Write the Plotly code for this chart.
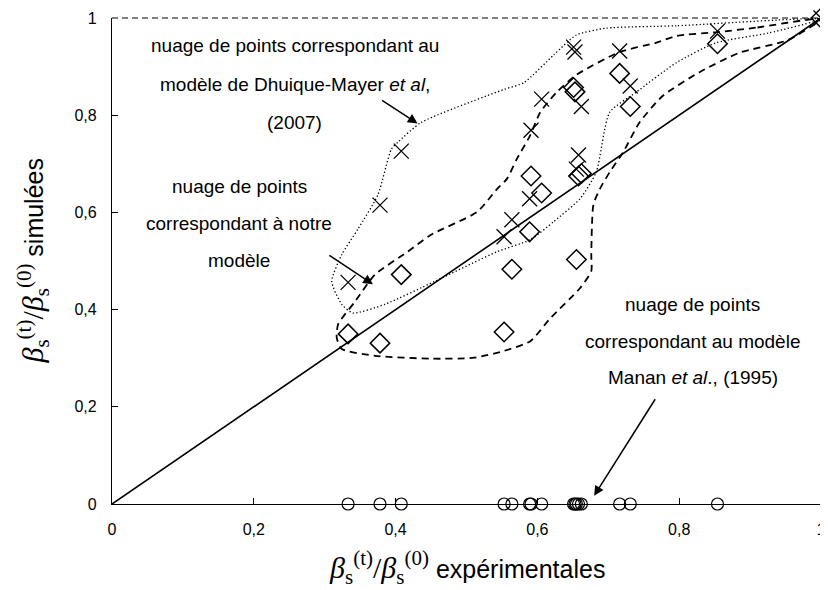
import plotly.graph_objects as go

# Experimental values (x) shared by all three models
x_exp = [0.333, 0.378, 0.408, 0.553, 0.564, 0.589, 0.591, 0.606,
         0.651, 0.653, 0.655, 0.658, 0.662, 0.716, 0.731, 0.854, 1.0]
# Dhuique-Mayer et al. (2007) model (crosses)
y_dhuique = [0.456, 0.615, 0.726, 0.55, 0.585, 0.628, 0.769, 0.833,
             0.94, 0.93, 0.689, 0.718, 0.818, 0.932, 0.86, 0.973, 1.0]
# our model (diamonds)
y_notre = [0.35, 0.331, 0.472, 0.354, 0.483, 0.56, 0.675, 0.64,
           0.857, 0.848, 0.503, 0.675, 0.68, 0.886, 0.818, 0.947, 1.0]
# Manan et al. (1995) model (circles)
x_manan = [0.333, 0.378, 0.408, 0.553, 0.564, 0.589, 0.591, 0.606,
           0.651, 0.653, 0.655, 0.658, 0.662, 0.716, 0.731, 0.854]
y_manan = [0.0] * len(x_manan)

# y = x reference line
diag_x = [0.0, 1.0]
diag_y = [0.0, 1.0]

# hand-drawn envelope around the Dhuique-Mayer points (dotted)
env_dm_x = [1.0, 0.796, 0.697, 0.655, 0.623, 0.581, 0.553, 0.436, 0.403, 0.394,
            0.375, 0.347, 0.324, 0.310, 0.324, 0.340, 0.385, 0.455, 0.543, 0.590,
            0.623, 0.660, 0.683, 0.702, 0.739, 0.796, 0.852, 0.926, 1.0]
env_dm_y = [0.998, 0.984, 0.979, 0.965, 0.924, 0.867, 0.853, 0.785, 0.744, 0.730,
            0.636, 0.566, 0.513, 0.458, 0.411, 0.393, 0.411, 0.458, 0.519, 0.544,
            0.581, 0.628, 0.683, 0.806, 0.847, 0.908, 0.949, 0.969, 0.998]

# hand-drawn envelope around our model's points (dashed)
env_nm_x = [1.0, 0.908, 0.854, 0.796, 0.767, 0.716, 0.655, 0.627, 0.604, 0.590,
            0.571, 0.557, 0.543, 0.515, 0.450, 0.417, 0.371, 0.343, 0.319, 0.317,
            0.324, 0.371, 0.450, 0.511, 0.553, 0.590, 0.618, 0.660, 0.676, 0.676,
            0.679, 0.688, 0.702, 0.721, 0.744, 0.777, 0.828, 0.884, 0.954, 1.0]
env_nm_y = [0.998, 0.980, 0.971, 0.963, 0.949, 0.930, 0.883, 0.847, 0.806, 0.759,
            0.710, 0.669, 0.648, 0.601, 0.554, 0.519, 0.472, 0.417, 0.370, 0.342,
            0.319, 0.305, 0.299, 0.301, 0.315, 0.335, 0.382, 0.444, 0.479, 0.513,
            0.616, 0.648, 0.683, 0.724, 0.785, 0.840, 0.888, 0.928, 0.955, 0.998]

tick_vals = [0, 0.2, 0.4, 0.6, 0.8, 1]
tick_text = ["0", "0,2", "0,4", "0,6", "0,8", "1"]

FONT = "Liberation Sans, Arial, sans-serif"
BLACK = "#000000"

# the page body adds an 8px offset; plot area lands at x 112..826, y 15..504
PLOT_L, PLOT_T, PLOT_W, PLOT_H = 112, 15, 714, 489
OFF = 8

fig = go.Figure()

fig.add_trace(go.Scatter(x=diag_x, y=diag_y, mode="lines",
                         line=dict(color=BLACK, width=1.6), hoverinfo="skip",
                         cliponaxis=False))
fig.add_trace(go.Scatter(x=env_dm_x, y=env_dm_y, mode="lines",
                         line=dict(color=BLACK, width=1.3, dash="1.3px,2.3px",
                                   shape="spline", smoothing=0.6),
                         cliponaxis=False))
fig.add_trace(go.Scatter(x=env_nm_x, y=env_nm_y, mode="lines",
                         line=dict(color=BLACK, width=1.8, dash="7px,5px",
                                   shape="spline", smoothing=0.6),
                         cliponaxis=False))
fig.add_trace(go.Scatter(x=x_exp, y=y_dhuique, mode="markers",
                         marker=dict(symbol="x-thin-open", size=15, color=BLACK,
                                     line=dict(color=BLACK, width=1.3)),
                         cliponaxis=False))
fig.add_trace(go.Scatter(x=x_exp, y=y_notre, mode="markers",
                         marker=dict(symbol="diamond-open", size=15, color=BLACK,
                                     line=dict(color=BLACK, width=1.5)),
                         cliponaxis=False))
fig.add_trace(go.Scatter(x=x_manan, y=y_manan, mode="markers",
                         marker=dict(symbol="circle-open", size=12, color=BLACK,
                                     line=dict(color=BLACK, width=1.2)),
                         cliponaxis=False))

axis_common = dict(range=[0, 1], tickvals=tick_vals, ticktext=tick_text,
                   showline=True, linecolor=BLACK, linewidth=1.2,
                   ticks="inside", ticklen=6, tickcolor=BLACK, tickwidth=1,
                   showgrid=False, zeroline=False, ticklabeloverflow="allow",
                   tickfont=dict(family=FONT, size=16, color=BLACK))

fig.update_layout(
    width=828 - OFF, height=590 - OFF,
    margin=dict(l=PLOT_L - OFF, r=828 - PLOT_L - PLOT_W,
                t=PLOT_T - OFF, b=590 - PLOT_T - PLOT_H),
    plot_bgcolor="white", paper_bgcolor="white",
    showlegend=False,
    xaxis=dict(**axis_common, ticklabelstandoff=11),
    yaxis=dict(**axis_common, ticklabelstandoff=11),
    font=dict(family=FONT, color=BLACK),
)

# dashed plot-area border (top and right)
fig.add_shape(type="line", xref="x domain", yref="y domain", x0=0, x1=1, y0=1, y1=1,
              line=dict(color=BLACK, width=1, dash="6px,4px"))
fig.add_shape(type="line", xref="x domain", yref="y domain", x0=1, x1=1, y0=0, y1=1,
              line=dict(color=BLACK, width=1, dash="6px,4px"))

BETA = ("<span style='font-family:Liberation Serif, Times New Roman, serif; font-size:30px'>"
        "<i>β</i><sub>s</sub><sup>(t)</sup>/<i>β</i><sub>s</sub><sup>(0)</sup></span>")


def px_x(p):
    return (p - PLOT_L) / float(PLOT_W)


def px_y(p):
    return (PLOT_T + PLOT_H - p) / float(PLOT_H)


fig.add_annotation(xref="paper", yref="paper", x=0.5, y=px_y(568),
                   text=BETA + " expérimentales", showarrow=False,
                   font=dict(family=FONT, size=25, color=BLACK),
                   xanchor="center", yanchor="middle")
fig.add_annotation(xref="paper", yref="paper", x=px_x(32), y=0.5,
                   text=BETA + " simulées", showarrow=False, textangle=-90,
                   font=dict(family=FONT, size=25, color=BLACK),
                   xanchor="center", yanchor="middle")

ANN = 19


def text_lines(lines, xc, y_first, dy):
    for i, t in enumerate(lines):
        fig.add_annotation(xref="paper", yref="paper", x=px_x(xc),
                           y=px_y(y_first + i * dy), text=t, showarrow=False,
                           font=dict(family=FONT, size=ANN, color=BLACK),
                           xanchor="center", yanchor="middle")


text_lines(["nuage de points correspondant au",
            "modèle de Dhuique-Mayer <i>et al</i>,",
            "(2007)"], 296, 43, 38.5)
text_lines(["nuage de points",
            "correspondant à notre",
            "modèle"], 240, 185, 37)
text_lines(["nuage de points",
            "correspondant au modèle",
            "Manan <i>et al</i>., (1995)"], 697, 303, 37)

# arrows
arrow = dict(showarrow=True, arrowhead=2, arrowsize=1.3, arrowwidth=1.5,
             arrowcolor=BLACK, text="", xref="x", yref="y")
fig.add_annotation(x=0.431, y=0.783, ax=-37, ay=-24, **arrow)
fig.add_annotation(x=0.368, y=0.452, ax=-45, ay=-30, **arrow)
fig.add_annotation(x=0.680, y=0.017, ax=62, ay=-98, **arrow)

fig.write_html("out.html")
